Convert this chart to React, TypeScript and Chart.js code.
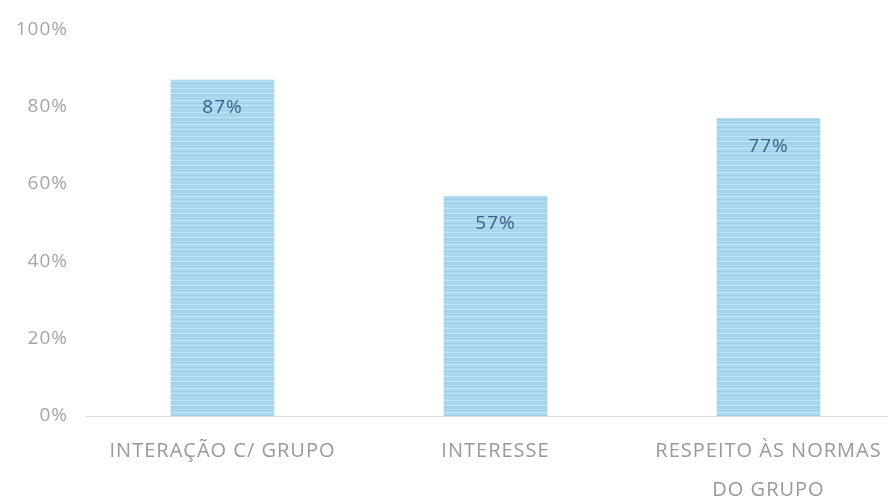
import React, { useEffect, useRef } from "react";
import { Chart, registerables } from "chart.js";

Chart.register(...registerables);

const categories: (string | string[])[] = [
  "INTERAÇÃO C/ GRUPO",
  "INTERESSE",
  ["RESPEITO ÀS NORMAS", "DO GRUPO"],
];
const values: number[] = [87, 57, 77];
const valueLabels: string[] = ["87%", "57%", "77%"];
const yTicks: number[] = [0, 20, 40, 60, 80, 100];

function makePattern(): CanvasPattern | string {
  const c = document.createElement("canvas");
  c.width = 16;
  c.height = 12;
  const g = c.getContext("2d");
  if (!g) return "#a9d8ee";
  const rows = ["#a3d4ec", "#b9e0f2", "#9ccfe9", "#acd9ee", "#c2e4f4", "#a0d2eb", "#b2dcf0", "#98cce8", "#aed9ef", "#bde2f3", "#a5d5ed", "#9fd1ea"];
  rows.forEach((col, i) => {
    g.fillStyle = col;
    g.fillRect(0, i, 16, 1);
  });
  const p = g.createPattern(c, "repeat");
  return p || "#a9d8ee";
}

const spacingPlugin = {
  id: "letterSpacing",
  beforeDraw(chart: any) {
    (chart.ctx as any).letterSpacing = "1px";
  },
};

const valueLabelPlugin = {
  id: "valueLabels",
  afterDatasetsDraw(chart: any) {
    const ctx = chart.ctx;
    const meta = chart.getDatasetMeta(0);
    ctx.save();
    ctx.font = "19px 'Open Sans', sans-serif";
    ctx.fillStyle = "#3f5f86";
    ctx.textAlign = "center";
    ctx.textBaseline = "middle";
    meta.data.forEach((bar: any, i: number) => {
      ctx.fillText(valueLabels[i], bar.x, bar.y + 28);
    });
    ctx.restore();
  },
};

export default function App() {
  const ref = useRef<HTMLCanvasElement>(null);
  useEffect(() => {
    if (!ref.current) return;
    const chart = new Chart(ref.current, {
      type: "bar",
      data: {
        labels: categories,
        datasets: [
          {
            data: values,
            backgroundColor: makePattern() as any,
            borderWidth: 0,
            categoryPercentage: 1,
            barPercentage: 0.38,
          },
        ],
      },
      options: {
        responsive: false,
        animation: false,
        devicePixelRatio: 1,
        layout: { padding: { top: 22, right: 0, left: 0, bottom: 0 } },
        plugins: { legend: { display: false }, tooltip: { enabled: false } },
        scales: {
          x: {
            grid: { display: false, drawTicks: false },
            border: { display: true, color: "#dcdcdc", width: 1 },
            ticks: {
              padding: 16,
              color: "#999999",
              font: { family: "'Open Sans', sans-serif", size: 20, lineHeight: 1.95 },
            },
            afterFit: (s: any) => {
              s.height = 83;
            },
          },
          y: {
            min: 0,
            max: 100,
            afterBuildTicks: (s: any) => {
              s.ticks = yTicks.map((v) => ({ value: v }));
            },
            grid: { display: false, drawTicks: false },
            border: { display: false },
            ticks: {
              padding: 18,
              color: "#a5a5a5",
              font: { family: "'Open Sans', sans-serif", size: 19 },
              callback: (v: any) => v + "%",
            },
            afterFit: (s: any) => {
              s.width = 86;
            },
          },
        },
      },
      plugins: [spacingPlugin, valueLabelPlugin],
    });
    return () => chart.destroy();
  }, []);
  return (
    <div
      style={{
        position: "fixed",
        left: 0,
        top: 0,
        width: 888,
        height: 499,
        overflow: "hidden",
        background: "#fff",
      }}
    >
      <canvas ref={ref} width={905} height={499} style={{ display: "block" }} />
    </div>
  );
}
